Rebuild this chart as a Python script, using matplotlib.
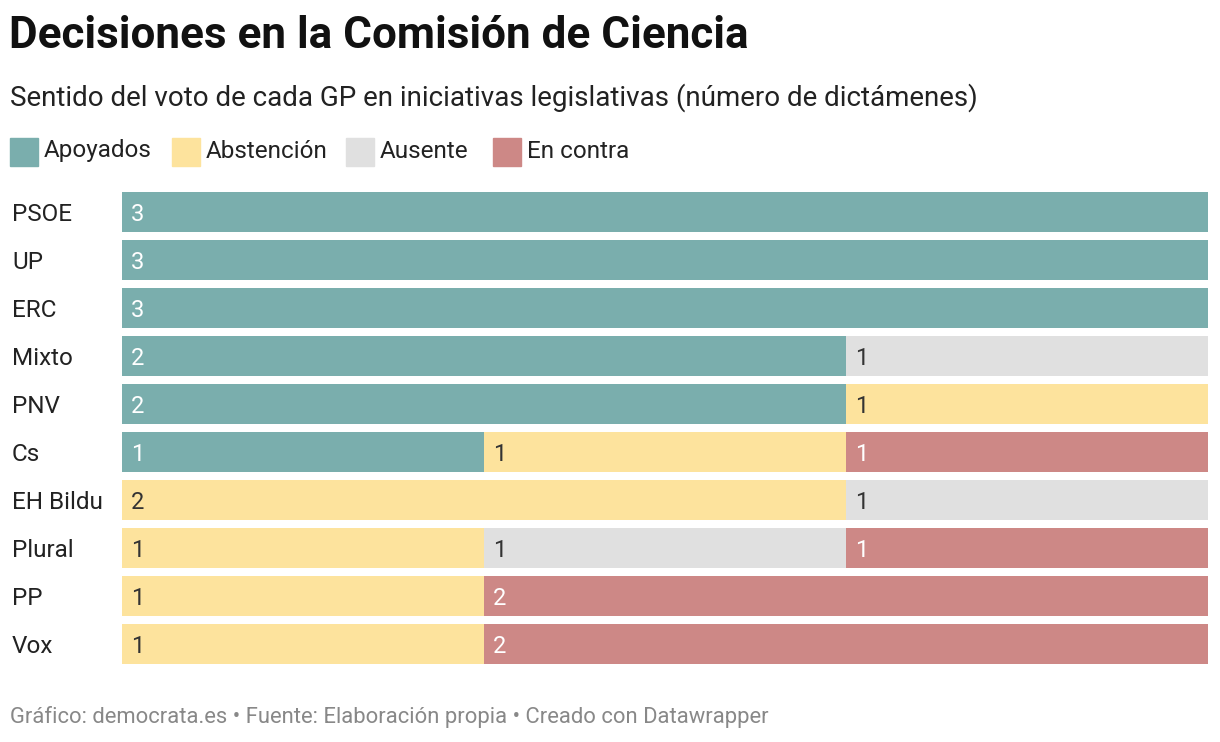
import matplotlib
matplotlib.use('Agg')
import matplotlib.pyplot as plt
from matplotlib.patches import Rectangle

plt.rcParams['font.family'] = ['Roboto', 'DejaVu Sans']

# Data
groups = ['PSOE', 'UP', 'ERC', 'Mixto', 'PNV', 'Cs', 'EH Bildu', 'Plural', 'PP', 'Vox']
series = ['Apoyados', 'Abstención', 'Ausente', 'En contra']
apoyados = [3, 3, 3, 2, 2, 1, 0, 0, 0, 0]
abstencion = [0, 0, 0, 0, 1, 1, 2, 1, 1, 1]
ausente = [0, 0, 0, 1, 0, 0, 1, 1, 0, 0]
en_contra = [0, 0, 0, 0, 0, 1, 0, 1, 2, 2]

colors = ['#7aaead', '#fde39d', '#e0e0e0', '#cd8886']
label_colors = ['white', '#333333', '#333333', 'white']

W, H = 1220, 742
fig = plt.figure(figsize=(W / 100, H / 100), dpi=100)

def fx(px):
    return px / W

def fy(py):
    return 1 - py / H

# Title, subtitle, footer
fig.text(fx(9), fy(36), 'Decisiones en la Comisión de Ciencia', fontsize=31.7,
         fontweight='bold', color='#111111', va='center', ha='left')
fig.text(fx(10), fy(98), 'Sentido del voto de cada GP en iniciativas legislativas (número de dictámenes)',
         fontsize=20, color='#222222', va='center', ha='left')
fig.text(fx(10), fy(717), 'Gráfico: democrata.es • Fuente: Elaboración propia • Creado con Datawrapper',
         fontsize=15.8, color='#888888', va='center', ha='left')

# Legend
legend_x = [10, 172, 346, 493]
for x0, name, c in zip(legend_x, series, colors):
    fig.patches.append(Rectangle((fx(x0), fy(166)), 28 / W, 28 / H, color=c,
                                 transform=fig.transFigure, figure=fig))
    fig.text(fx(x0 + 34), fy(151), name, fontsize=17.5, color='#222222', va='center', ha='left')

# Bars
ax = fig.add_axes([fx(122), fy(668), (1208 - 122) / W, 480 / H])
data = [apoyados, abstencion, ausente, en_contra]
y = list(range(len(groups)))
left = [0] * len(groups)
for vals, c, lc in zip(data, colors, label_colors):
    ax.barh(y, vals, left=left, height=40 / 48, color=c, edgecolor='none')
    for i, v in enumerate(vals):
        if v > 0:
            ax.text(left[i] + 0.025, i, str(v), color=lc, fontsize=17,
                    va='center_baseline', ha='left')
    left = [l + v for l, v in zip(left, vals)]

ax.set_xlim(0, 3)
ax.set_ylim(len(groups) - 0.5, -0.5)
ax.set_yticks(y)
ax.set_yticklabels(groups, fontsize=17.5, color='#222222', ha='left')
ax.tick_params(axis='y', length=0, pad=(122 - 12) * 0.72)
ax.set_xticks([])
for s in ax.spines.values():
    s.set_visible(False)

fig.savefig('out.png', dpi=100)
